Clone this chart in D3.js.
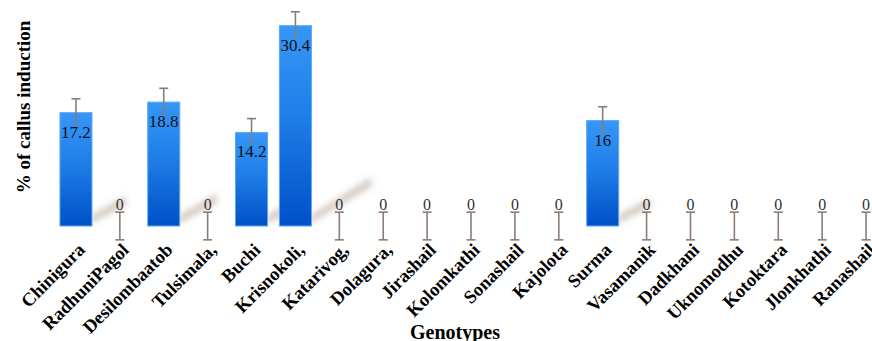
<!DOCTYPE html>
<html><head><meta charset="utf-8">
<script src="https://cdn.jsdelivr.net/npm/d3@7"></script>
</head>
<body style="margin:0">
<svg id="chart" width="872" height="341"></svg>
<script>
const categories = ["Chinigura","RadhuniPagol","Desilombaatob","Tulsimala,","Buchi","Krisnokoli,","Katarivog,","Dolagura,","Jirashail","Kolomkathi","Sonashail","Kajolota","Surma","Vasamanik","Dadkhani","Uknomodhu","Kotoktara","Jlonkhathi","Ranashail"];
const values = [17.2,0,18.8,0,14.2,30.4,0,0,0,0,0,0,16,0,0,0,0,0,0];
const errors = [2.1,2.1,2.1,2.1,2.1,2.1,2.1,2.1,2.1,2.1,2.1,2.1,2.1,2.1,2.1,2.1,2.1,2.1,2.1];
const yTitle = "% of callus induction";
const xTitle = "Genotypes";

const serif = '"Liberation Serif"';
const svg = d3.select("#chart").style("display","block");
const defs = svg.append("defs");
const grad = defs.append("linearGradient").attr("id","barGrad").attr("x1",0).attr("y1",0).attr("x2",0).attr("y2",1);
grad.append("stop").attr("offset","0%").attr("stop-color","#3797f7");
grad.append("stop").attr("offset","45%").attr("stop-color","#1f7ee8");
grad.append("stop").attr("offset","100%").attr("stop-color","#0050c8");
const blur = defs.append("filter").attr("id","blur").attr("x","-50%").attr("y","-50%").attr("width","200%").attr("height","200%");
blur.append("feGaussianBlur").attr("stdDeviation",3.2);

const x = d3.scaleBand().domain(categories).range([54, 888]).paddingInner(0.27).paddingOuter(0.135);
const y = d3.scaleLinear().domain([0, 35]).range([226, 226 - 35*6.59]);
const data = categories.map((c,i)=>({c, v:values[i], e:errors[i]}));
const cx = d => x(d.c) + x.bandwidth()/2;

// shadows
svg.append("g").selectAll("path").data(data.filter(d=>d.v>0)).join("path")
  .attr("d", d => {
    const xr = x(d.c) + x.bandwidth();
    const h = y(0) - y(d.v);
    const x0 = xr - 2, y0 = y(0) - 2;
    const x1 = xr + 0.3*h, y1 = y(0) - 0.22*h;
    return `M${x0},${y0} L${x0+2},${y0-9} L${x1},${y1-5} L${x1},${y1+4} Z`;
  })
  .attr("fill","rgba(150,122,100,0.42)")
  .attr("filter","url(#blur)");

// bars
svg.append("g").selectAll("rect").data(data.filter(d=>d.v>0)).join("rect")
  .attr("x", d=>x(d.c)).attr("width", x.bandwidth())
  .attr("y", d=>y(d.v)).attr("height", d=>y(0)-y(d.v))
  .attr("fill","url(#barGrad)")
  .attr("stroke","#5aaaf8").attr("stroke-width",1);

// error bars
const eg = svg.append("g").attr("stroke","#8a7d75").attr("stroke-width",1.6).attr("fill","none");
data.forEach(d => {
  const c = cx(d);
  const top = y(d.v + d.e), bot = y(d.v - d.e);
  eg.append("line").attr("x1",c).attr("x2",c).attr("y1",top).attr("y2",bot);
  eg.append("line").attr("x1",c-4.5).attr("x2",c+4.5).attr("y1",top).attr("y2",top);
  if (d.v === 0) eg.append("line").attr("x1",c-4.5).attr("x2",c+4.5).attr("y1",bot).attr("y2",bot);
});

// value labels
svg.append("g").selectAll("text").data(data).join("text")
  .attr("x", cx)
  .attr("y", d => d.v > 0 ? y(d.v) + 25 : y(0) - 16)
  .attr("text-anchor","middle")
  .style("font-family", serif)
  .attr("font-size", d => d.v > 0 ? 17 : 16)
  .attr("fill", d => d.v > 0 ? "#111" : "#333")
  .text(d => d3.format("")(d.v));

// x axis labels (no axis line, rotated)
const xAxis = svg.append("g").attr("transform","translate(0,243)")
  .call(d3.axisBottom(x).tickSize(0).tickPadding(0));
xAxis.attr("font-family", null).attr("font-size", null);
xAxis.select(".domain").remove();
xAxis.selectAll("text")
  .style("font-family", serif)
  .attr("font-weight","bold").attr("font-size",18.5).attr("fill","#000")
  .attr("text-anchor","end").attr("dy",0).attr("y",0)
  .attr("transform","translate(10,8) rotate(-45)");

// titles
svg.append("text").attr("x",455).attr("y",339).attr("text-anchor","middle")
  .style("font-family", serif)
  .attr("font-weight","bold").attr("font-size",20).text(xTitle);
svg.append("text").attr("transform","translate(30,107) rotate(-90)").attr("text-anchor","middle")
  .style("font-family", serif)
  .attr("font-weight","bold").attr("font-size",19).text(yTitle);
</script>
</body></html>
